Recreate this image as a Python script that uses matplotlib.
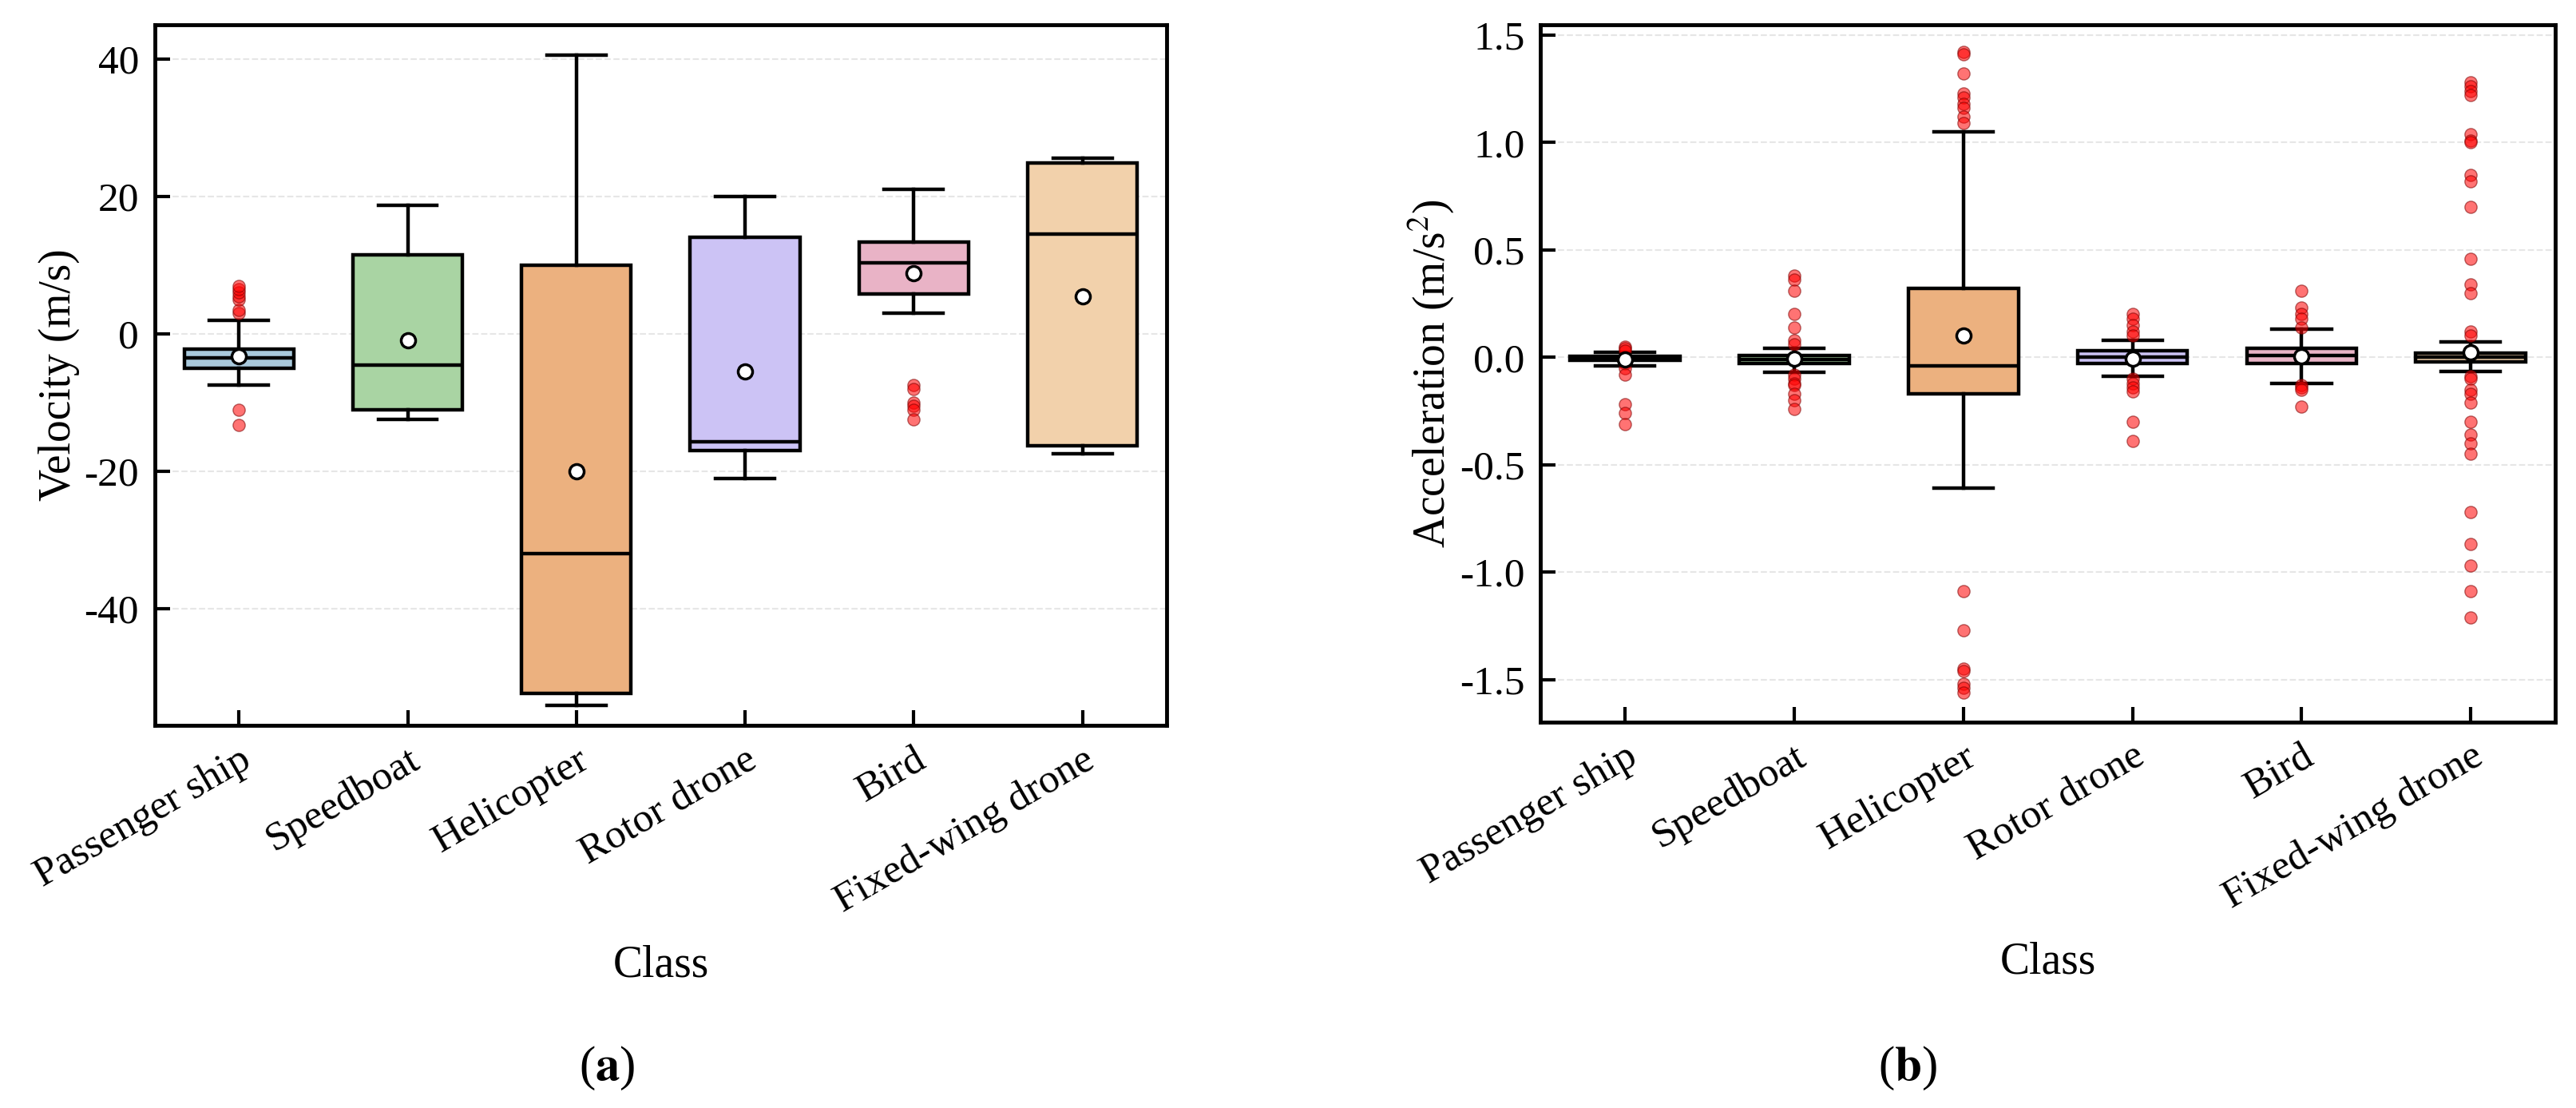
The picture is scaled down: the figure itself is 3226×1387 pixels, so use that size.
import matplotlib.pyplot as plt

plt.rcParams['font.family'] = ['Liberation Serif', 'DejaVu Serif']
plt.rcParams['mathtext.fontset'] = 'stix'

classes = ['Passenger ship', 'Speedboat', 'Helicopter', 'Rotor drone', 'Bird', 'Fixed-wing drone']
colors = ['#a9c9dc', '#a9d4a3', '#ecb17f', '#ccc3f5', '#e9b3c6', '#f2d1ab']

# velocity: whislo, q1, med, q3, whishi, mean
vel_stats = [
    [-7.5, -5.0, -3.5, -2.2, 2.0, -3.3],
    [-12.5, -11.0, -4.5, 11.5, 18.7, -1.0],
    [-54.0, -52.3, -32.0, 10.0, 40.5, -20.0],
    [-21.0, -17.0, -15.7, 14.0, 20.0, -5.5],
    [3.0, 5.8, 10.3, 13.3, 21.0, 8.8],
    [-17.5, -16.3, 14.5, 24.8, 25.6, 5.5],
]
vel_fliers = [
    [3.0, 3.5, 5.0, 5.5, 6.0, 6.5, 7.0, -11.0, -13.3],
    [], [], [],
    [-7.5, -8.0, -10.0, -10.5, -11.0, -12.5],
    [],
]

# acceleration: whislo, q1, med, q3, whishi, mean
acc_stats = [
    [-0.04, -0.015, -0.005, 0.005, 0.025, -0.01],
    [-0.07, -0.03, -0.01, 0.01, 0.04, -0.005],
    [-0.61, -0.17, -0.04, 0.32, 1.05, 0.1],
    [-0.09, -0.03, 0.0, 0.03, 0.08, -0.005],
    [-0.12, -0.03, 0.01, 0.04, 0.13, 0.005],
    [-0.065, -0.02, 0.0, 0.02, 0.07, 0.025],
]
acc_fliers = [
    [0.05, 0.04, 0.03, -0.03, -0.05, -0.08, -0.22, -0.26, -0.31],
    [0.38, 0.36, 0.31, 0.2, 0.14, 0.08, 0.06, -0.08, -0.1, -0.12, -0.13, -0.17, -0.2, -0.24],
    [1.42, 1.41, 1.32, 1.23, 1.21, 1.18, 1.16, 1.12, 1.09,
     -1.09, -1.27, -1.45, -1.46, -1.52, -1.54, -1.56],
    [0.2, 0.18, 0.15, 0.12, 0.1, -0.1, -0.12, -0.14, -0.16, -0.3, -0.39],
    [0.31, 0.23, 0.2, 0.18, 0.14, -0.13, -0.14, -0.15, -0.23],
    [1.28, 1.26, 1.24, 1.22, 1.04, 1.01, 1.0, 0.85, 0.82, 0.7, 0.46, 0.34, 0.3, 0.12, 0.1,
     -0.09, -0.1, -0.15, -0.17, -0.21, -0.3, -0.36, -0.4, -0.45, -0.72, -0.87, -0.97, -1.09, -1.21],
]


def make_stats(stats, fliers):
    out = []
    for s, f in zip(stats, fliers):
        out.append(dict(whislo=s[0], q1=s[1], med=s[2], q3=s[3], whishi=s[4], mean=s[5], fliers=f))
    return out


def draw(ax, stats, fliers, ylabel, ylim, yticks, ticklabels):
    lw = 3.2
    bp = ax.bxp(make_stats(stats, fliers), positions=range(len(classes)), widths=0.65,
                patch_artist=True, showmeans=True,
                boxprops=dict(linewidth=lw, edgecolor='k'),
                medianprops=dict(color='k', linewidth=lw),
                whiskerprops=dict(linewidth=lw),
                capprops=dict(linewidth=lw),
                capwidths=0.35,
                meanprops=dict(marker='o', markerfacecolor='white', markeredgecolor='k',
                               markersize=13, markeredgewidth=2.5),
                flierprops=dict(marker='o', markerfacecolor='red', markeredgecolor='#7a0000',
                                markersize=11, alpha=0.55))
    for patch, c in zip(bp['boxes'], colors):
        patch.set_facecolor(c)
    ax.set_ylim(*ylim)
    ax.set_yticks(yticks)
    ax.set_yticklabels(ticklabels)
    ax.set_xticks(range(len(classes)))
    ax.set_xticklabels(classes, rotation=30, ha='right', rotation_mode='anchor')
    ax.set_xlim(-0.5, len(classes) - 0.5)
    ax.tick_params(direction='in', length=14, width=3, labelsize=37, pad=14)
    ax.grid(axis='y', linestyle='--', color='#e6e6e6', linewidth=1.5)
    ax.set_axisbelow(True)
    for sp in ax.spines.values():
        sp.set_linewidth(3.5)
    ax.set_ylabel(ylabel, fontsize=40)
    ax.set_xlabel('Class', fontsize=40, labelpad=22)


fig = plt.figure(figsize=(32.26, 13.87), dpi=100)
ax1 = fig.add_axes([0.06, 0.345, 0.393, 0.633])
ax2 = fig.add_axes([0.598, 0.348, 0.394, 0.63])

draw(ax1, vel_stats, vel_fliers, 'Velocity (m/s)', (-57, 45),
     [-40, -20, 0, 20, 40], ['-40', '-20', '0', '20', '40'])
draw(ax2, acc_stats, acc_fliers, r'Acceleration (m/s$^2$)', (-1.7, 1.55),
     [-1.5, -1.0, -0.5, 0.0, 0.5, 1.0, 1.5], ['-1.5', '-1.0', '-0.5', '0.0', '0.5', '1.0', '1.5'])

fig.text(0.2357, 0.025, r'($\mathbf{a}$)', fontsize=44, ha='center')
fig.text(0.7406, 0.025, r'($\mathbf{b}$)', fontsize=44, ha='center')

fig.savefig('out.png', dpi=100)
